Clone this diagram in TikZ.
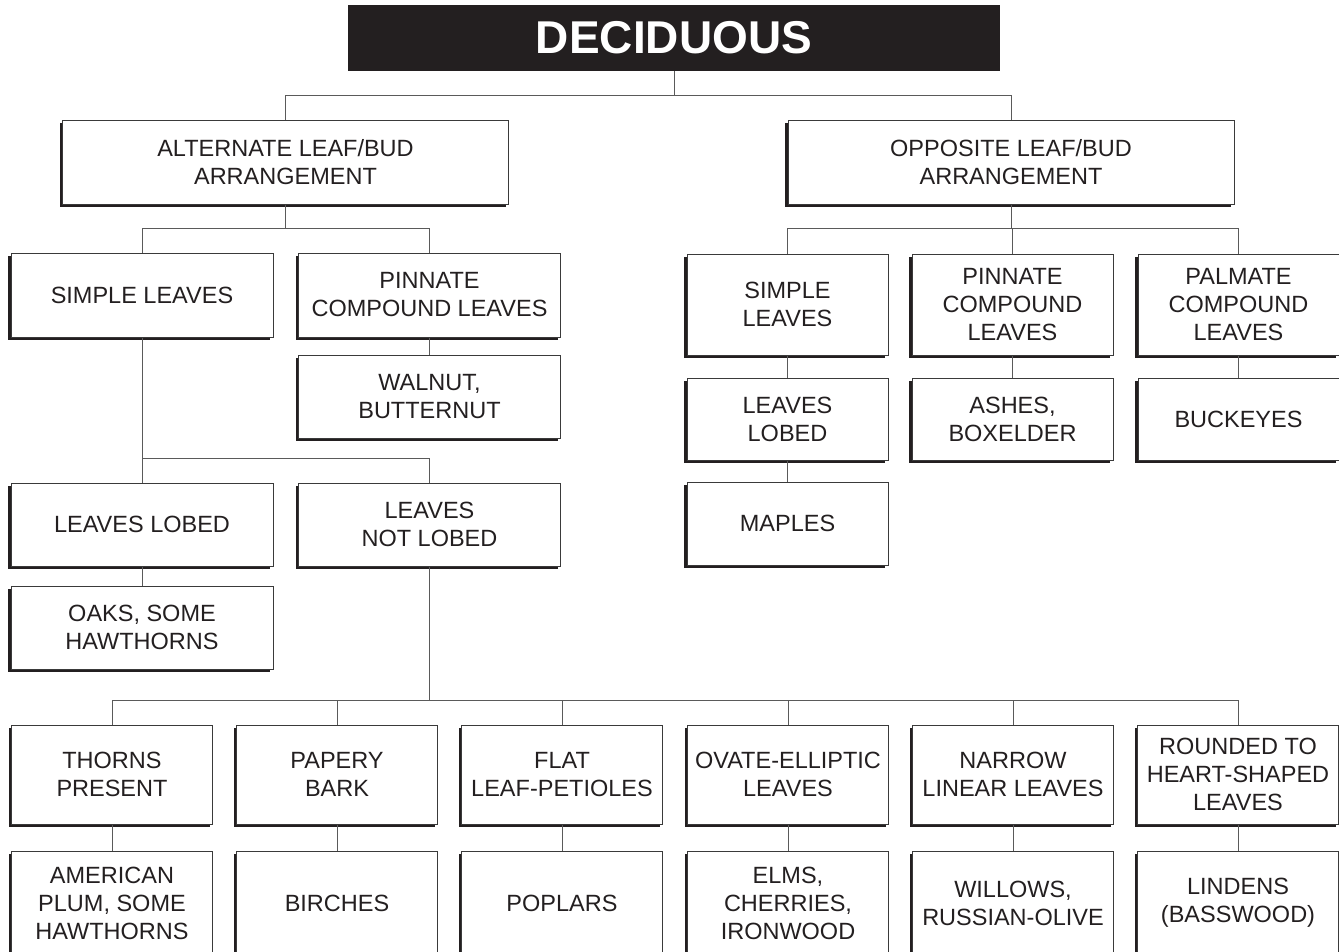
\documentclass[tikz,border=0pt]{standalone}
\usepackage{fontspec}
\setmainfont{Liberation Sans}
\usetikzlibrary{shadows}
\definecolor{titleblack}{HTML}{231F20}
\definecolor{boxgray}{HTML}{3A3A3A}
\definecolor{linkgray}{HTML}{5A5A5A}
\newcommand{\boxfont}{\fontsize{23.5}{28}\selectfont}
\newcommand{\headfont}{\fontsize{46}{50}\selectfont\bfseries}
\tikzset{
	box/.style={draw=boxgray, fill=white, line width=1pt, align=center, inner sep=0pt, text=titleblack, font=\boxfont,
		drop shadow={shadow xshift=-3pt, shadow yshift=-3pt, opacity=1, fill=titleblack}},
	armbox/.style={box, minimum width=446pt, minimum height=84pt},
	leafbox/.style={box, minimum width=262pt, minimum height=#1},
	leafbox/.default=84pt,
	colbox/.style={box, minimum width=201pt, minimum height=#1},
	headbox/.style={fill=titleblack, text=white, inner sep=0pt, minimum width=652pt, minimum height=66pt, font=\headfont},
	link/.style={draw=linkgray, line width=1pt}
}

\begin{document}
\begin{tikzpicture}[x=1pt, y=-1pt]
		%%%%% START %%%%%
		\useasboundingbox[fill=white] (0,0) rectangle (1339,951);
		
		% bus lines
		\coordinate (topbus) at (0,95);
		\coordinate (lbus) at (0,228);
		\coordinate (rbus) at (0,228);
		\coordinate (mbus) at (0,458);
		\coordinate (bbus) at (0,700);
		
		\node[headbox] (title) at (674,38) {DECIDUOUS};
		
		\node[armbox] (alt) at (285.5,162) {ALTERNATE LEAF/BUD\\ARRANGEMENT};
		\node[armbox] (opp) at (1011,162) {OPPOSITE LEAF/BUD\\ARRANGEMENT};
		
		% alternate side
		\node[leafbox] (lsimple) at (142,295) {SIMPLE LEAVES};
		\node[leafbox] (lpinnate) at (429.5,295) {PINNATE\\COMPOUND LEAVES};
		\node[leafbox=83pt] (walnut) at (429.5,396.5) {WALNUT,\\BUTTERNUT};
		\node[leafbox=83pt] (lobed) at (142,524.5) {LEAVES LOBED};
		\node[leafbox=83pt] (notlobed) at (429.5,524.5) {LEAVES\\NOT LOBED};
		\node[leafbox=83pt] (oaks) at (142,627.5) {OAKS, SOME\\HAWTHORNS};
		
		\node[colbox=99pt] (thorns) at (112,774.5) {THORNS\\PRESENT};
		\node[colbox=99pt] (papery) at (337,774.5) {PAPERY\\BARK};
		\node[colbox=99pt] (flat) at (562,774.5) {FLAT\\LEAF-PETIOLES};
		\node[colbox=99pt] (ovate) at (788,774.5) {OVATE-ELLIPTIC\\LEAVES};
		\node[colbox=99pt] (narrow) at (1013,774.5) {NARROW\\LINEAR LEAVES};
		\node[colbox=99pt] (rounded) at (1238,774.5) {ROUNDED TO\\HEART-SHAPED\\LEAVES};
		
		\node[colbox=104pt] (plum) at (112,903) {AMERICAN\\PLUM, SOME\\HAWTHORNS};
		\node[colbox=104pt] (birches) at (337,903) {BIRCHES};
		\node[colbox=104pt] (poplars) at (562,903) {POPLARS};
		\node[colbox=104pt] (elms) at (788,903) {ELMS,\\CHERRIES,\\IRONWOOD};
		\node[colbox=104pt] (willows) at (1013,903) {WILLOWS,\\RUSSIAN-OLIVE};
		\node[colbox=104pt] (lindens) at (1238,903) {LINDENS\\(BASSWOOD)};
		
		% opposite side
		\node[colbox=101pt] (rsimple) at (787.5,304.5) {SIMPLE\\LEAVES};
		\node[colbox=101pt] (rpinnate) at (1012.5,304.5) {PINNATE\\COMPOUND\\LEAVES};
		\node[colbox=101pt] (palmate) at (1238.5,304.5) {PALMATE\\COMPOUND\\LEAVES};
		\node[colbox=82pt] (rlobed) at (787.5,419) {LEAVES\\LOBED};
		\node[colbox=82pt] (ashes) at (1012.5,419) {ASHES,\\BOXELDER};
		\node[colbox=82pt] (buckeyes) at (1238.5,419) {BUCKEYES};
		\node[colbox=83pt] (maples) at (787.5,523.5) {MAPLES};
		
		% connectors
		\draw[link] (title.south) -- (title.south |- topbus);
		\draw[link] (alt.north) -- (alt.north |- topbus) -- (opp.north |- topbus) -- (opp.north);
		
		\draw[link] (alt.south) -- (alt.south |- lbus);
		\draw[link] (lsimple.north) -- (lsimple.north |- lbus) -- (lpinnate.north |- lbus) -- (lpinnate.north);
		\draw[link] (lpinnate.south) -- (walnut.north);
		\draw[link] (lsimple.south) -- (lobed.north);
		\draw[link] (lobed.north |- mbus) -- (notlobed.north |- mbus) -- (notlobed.north);
		\draw[link] (lobed.south) -- (oaks.north);
		\draw[link] (notlobed.south) -- (notlobed.south |- bbus);
		
		\draw[link] (thorns.north) -- (thorns.north |- bbus) -- (rounded.north |- bbus) -- (rounded.north);
		\draw[link] (papery.north) -- (papery.north |- bbus);
		\draw[link] (flat.north) -- (flat.north |- bbus);
		\draw[link] (ovate.north) -- (ovate.north |- bbus);
		\draw[link] (narrow.north) -- (narrow.north |- bbus);
		\draw[link] (thorns.south) -- (plum.north);
		\draw[link] (papery.south) -- (birches.north);
		\draw[link] (flat.south) -- (poplars.north);
		\draw[link] (ovate.south) -- (elms.north);
		\draw[link] (narrow.south) -- (willows.north);
		\draw[link] (rounded.south) -- (lindens.north);
		
		\draw[link] (opp.south) -- (opp.south |- rbus);
		\draw[link] (rsimple.north) -- (rsimple.north |- rbus) -- (palmate.north |- rbus) -- (palmate.north);
		\draw[link] (rpinnate.north) -- (rpinnate.north |- rbus);
		\draw[link] (rsimple.south) -- (rlobed.north);
		\draw[link] (rpinnate.south) -- (ashes.north);
		\draw[link] (palmate.south) -- (buckeyes.north);
		\draw[link] (rlobed.south) -- (maples.north);
		%%%%% END %%%%%
\end{tikzpicture}
\end{document}
